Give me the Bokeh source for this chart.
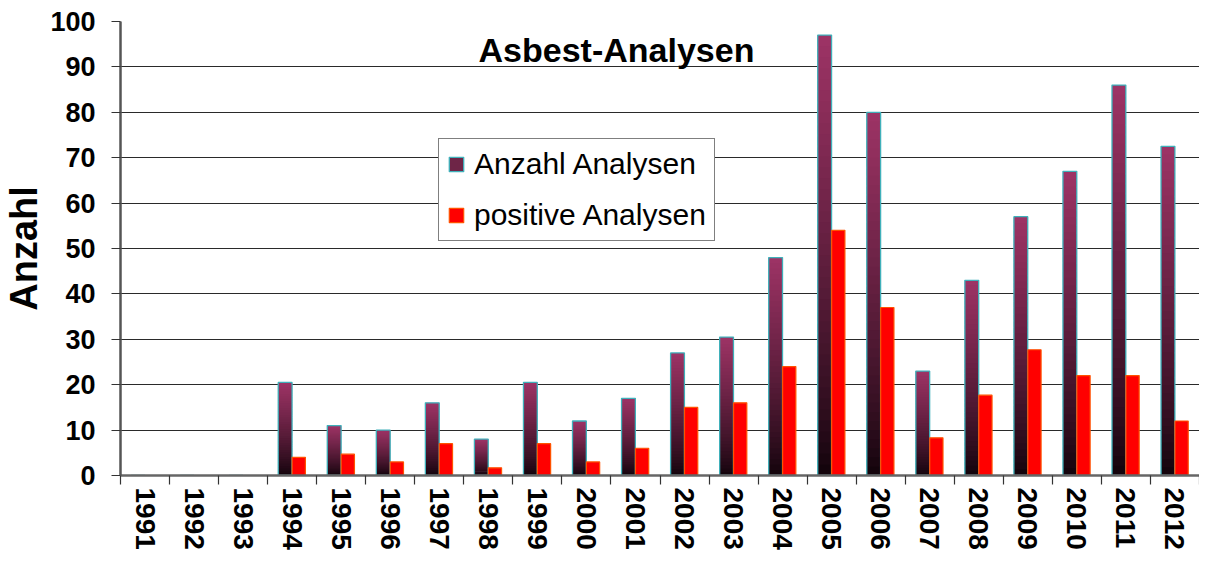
from bokeh.plotting import figure
from bokeh.models import (ColumnDataSource, FixedTicker, Legend, LegendItem, Label, Range1d)
from bokeh.embed import file_html
from bokeh.resources import INLINE

years = [str(y) for y in range(1991, 2013)]
anzahl = [0, 0, 0, 20.5, 11, 10, 16, 8, 20.5, 12, 17, 27, 30.5, 48, 97, 80, 23, 43, 57, 67, 86, 72.5]
positive = [0, 0, 0, 4, 4.7, 3, 7, 1.7, 7, 3, 6, 15, 16, 24, 54, 37, 8.3, 17.7, 27.7, 22, 22, 12]
y_ticks = list(range(0, 101, 10))

FONT = "Liberation Sans"
TOP_RGB = (158, 52, 102)
BOT_RGB = (16, 3, 10)
N = 40

p = figure(width=1199, height=554, output_backend="svg", toolbar_location=None,
           x_range=Range1d(-0.5, len(years) - 0.5), y_range=Range1d(0, 100),
           min_border_left=109, min_border_right=0, min_border_top=21, min_border_bottom=79)
p.outline_line_color = None
p.background_fill_color = "white"
p.border_fill_color = "white"

# gradient bars (stacked slices, overlapping slightly to avoid seams)
sl = dict(left=[], right=[], bottom=[], top=[], color=[])
for i, v in enumerate(anzahl):
    if v <= 0:
        continue
    for k in range(N):
        t = (k + 0.5) / N
        f = t ** 0.8
        c = tuple(int(BOT_RGB[j] + (TOP_RGB[j] - BOT_RGB[j]) * f) for j in range(3))
        sl["left"].append(i - 0.284)
        sl["right"].append(i - 0.002)
        sl["bottom"].append(v * k / N)
        sl["top"].append(min(v, v * (k + 1.8) / N))
        sl["color"].append("#%02x%02x%02x" % c)
p.quad(left="left", right="right", bottom="bottom", top="top", fill_color="color",
       line_color=None, source=ColumnDataSource(sl))

idx = list(range(len(years)))
p.vbar(x=[i - 0.143 for i in idx], width=0.282, top=anzahl, bottom=0, fill_color=None,
       line_color="#3fb0ba", line_width=1.3)
p.vbar(x=[i + 0.135 for i in idx], width=0.27, top=positive, bottom=0,
       fill_color="#ff0000", line_color="#ff5200", line_width=1.2)

# legend dummies (off-range so they are not visible in the plot)
r1 = p.quad(left=[-5], right=[-4], bottom=[0], top=[1], fill_color="#6e2547",
            line_color="#3fb0ba", line_width=1.3)
r2 = p.quad(left=[-5], right=[-4], bottom=[0], top=[1], fill_color="#ff0000",
            line_color="#ff5200", line_width=1.2)
legend = Legend(items=[LegendItem(label="Anzahl Analysen", renderers=[r1]),
                       LegendItem(label="positive Analysen", renderers=[r2])],
                location=(318, 234), border_line_color="black", border_line_width=1,
                background_fill_color="white", background_fill_alpha=1.0,
                padding=8, spacing=17, margin=0, glyph_width=18, glyph_height=18,
                label_standoff=9, label_text_font=FONT, label_text_font_size="30px",
                label_text_color="black")
p.add_layout(legend)

p.add_layout(Label(x=496, y=426, x_units="screen", y_units="screen", text="Asbest-Analysen",
                   text_font=FONT, text_font_size="34px", text_font_style="bold",
                   text_align="center", text_baseline="alphabetic", text_color="black"))

# grid
p.xgrid.grid_line_color = None
p.ygrid.ticker = FixedTicker(ticks=y_ticks)
p.ygrid.grid_line_color = "#2a2a2a"
p.ygrid.grid_line_width = 1.2

# y axis
p.yaxis.ticker = FixedTicker(ticks=y_ticks)
p.yaxis.axis_label = "Anzahl"
p.yaxis.axis_label_text_font = FONT
p.yaxis.axis_label_text_font_size = "38px"
p.yaxis.axis_label_text_font_style = "bold"
p.yaxis.axis_label_text_color = "black"
p.yaxis.axis_label_standoff = 2
p.yaxis.major_label_text_font = FONT
p.yaxis.major_label_text_font_size = "27px"
p.yaxis.major_label_text_font_style = "bold"
p.yaxis.major_label_text_color = "black"
p.yaxis.major_label_standoff = 16
p.yaxis.major_tick_out = 9
p.yaxis.major_tick_in = 0
p.yaxis.major_tick_line_color = "#333333"
p.yaxis.minor_tick_line_color = None
p.yaxis.axis_line_color = "#555555"
p.yaxis.axis_line_width = 2.5

# x axis
p.xaxis.ticker = FixedTicker(ticks=idx, minor_ticks=[i - 0.5 for i in range(len(years) + 1)])
p.xaxis.major_label_overrides = {i: y for i, y in enumerate(years)}
p.xaxis.major_label_orientation = "vertical"
p.xaxis.major_label_text_font = FONT
p.xaxis.major_label_text_font_size = "28px"
p.xaxis.major_label_text_font_style = "bold"
p.xaxis.major_label_text_color = "black"
p.xaxis.major_label_standoff = 3
p.xaxis.major_tick_line_color = None
p.xaxis.minor_tick_out = 9
p.xaxis.minor_tick_in = 0
p.xaxis.minor_tick_line_color = "#333333"
p.xaxis.minor_tick_line_width = 1.2
p.xaxis.axis_line_color = "#666666"
p.xaxis.axis_line_width = 2.5

open("out.html", "w").write(file_html(p, INLINE))
